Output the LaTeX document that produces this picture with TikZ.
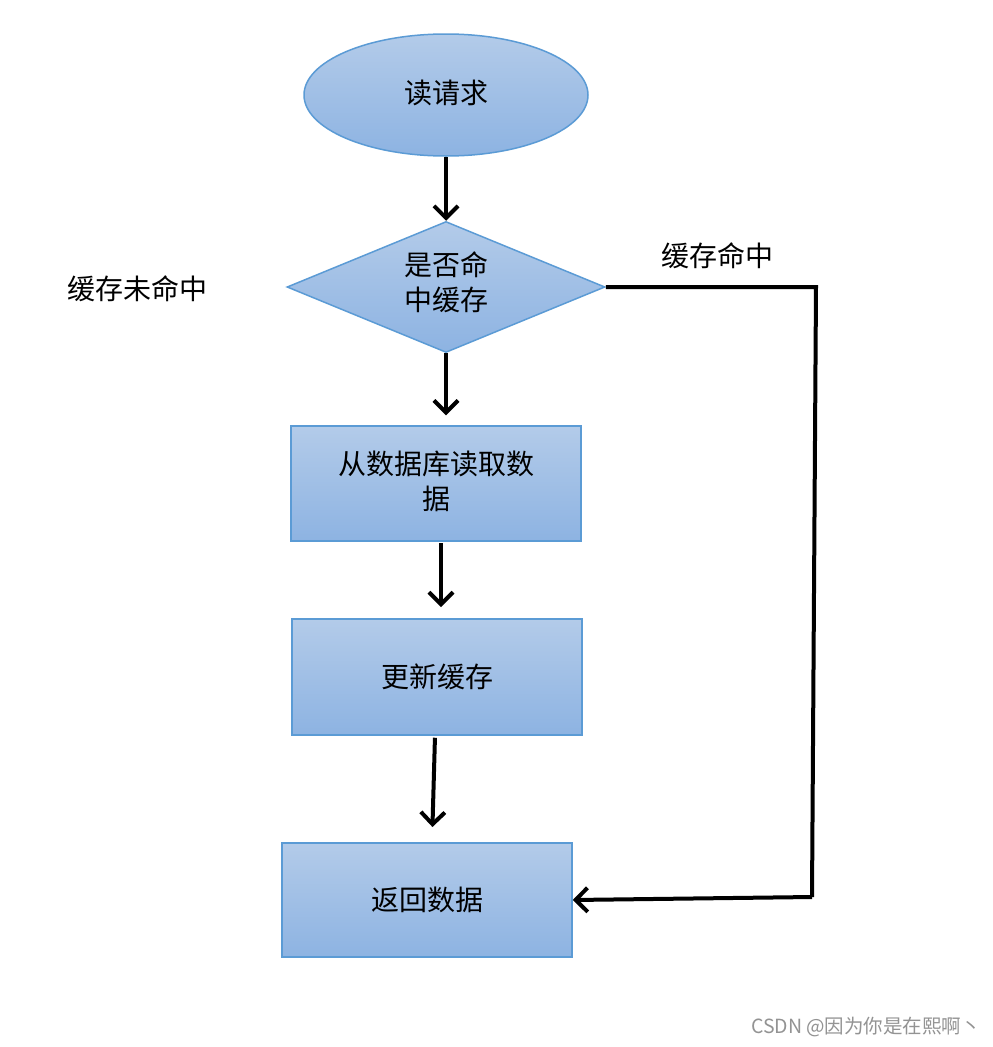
\documentclass[tikz,border=0pt]{standalone}
\usepackage{fontspec}
\setmainfont{Noto Sans CJK SC}
\usetikzlibrary{shapes.geometric,arrows.meta}
\definecolor{ftop}{HTML}{B3CBE9}
\definecolor{fbot}{HTML}{8DB3E2}
\definecolor{bord}{HTML}{5B9BD5}
\tikzset{
  shp/.style={draw=bord, line width=1.5pt, top color=ftop, bottom color=fbot, inner sep=0pt, font=\fontsize{28}{36}\selectfont, align=center},
  rbox/.style={shp, rectangle, minimum width=290pt, minimum height=115pt},
  conn/.style={line width=4pt, -{Straight Barb[length=12pt,width=24pt,line width=4pt]}},
  lbl/.style={font=\fontsize{28}{32}\selectfont}
}
\begin{document}
\begin{tikzpicture}[x=1pt,y=-1pt]
\useasboundingbox (0,0) rectangle (993,1047);
\fill[white] (0,0) rectangle (993,1047);
\node[shp, ellipse, minimum width=284pt, minimum height=122pt] (start) at (446,95) {\raisebox{7pt}{读请求}};
\node[shp, diamond, aspect=2.43, minimum width=318pt, minimum height=131pt] (dec) at (446,287) {\raisebox{12pt}{\shortstack{是否命\\[6pt]中缓存}}};
\node[rbox] (db) at (436,483.5) {\raisebox{7pt}{\shortstack{从数据库读取数\\[6pt]据}}};
\node[rbox, minimum height=116pt] (upd) at (437,677) {更新缓存};
\node[rbox, minimum height=114pt] (ret) at (427,900) {返回数据};
\node[lbl] (miss) at (137,289) {缓存未命中};
\node[lbl] (hit) at (717,256) {缓存命中};
\node[font=\fontsize{19.5}{22}\selectfont, text=gray!85] (wm) at (866,1027) {CSDN @因为你是在熙啊丶};
\coordinate (c1) at (816,287);
\coordinate (c2) at (812,897);
\draw[conn] (start.south) -- (dec.north);
\draw[conn, shorten >=10pt] (dec.south) -- (dec.south |- db.north);
\draw[conn, shorten <=2pt, shorten >=12pt] (441,541) -- (441,619);
\draw[conn, shorten <=2pt, shorten >=16pt] (upd.south) ++(-2,0) -- (432,843);
\draw[line width=4pt] (dec.east) -- (c1) -- (c2);
\draw[conn] (c2) -- (ret.east);
\end{tikzpicture}
\end{document}
